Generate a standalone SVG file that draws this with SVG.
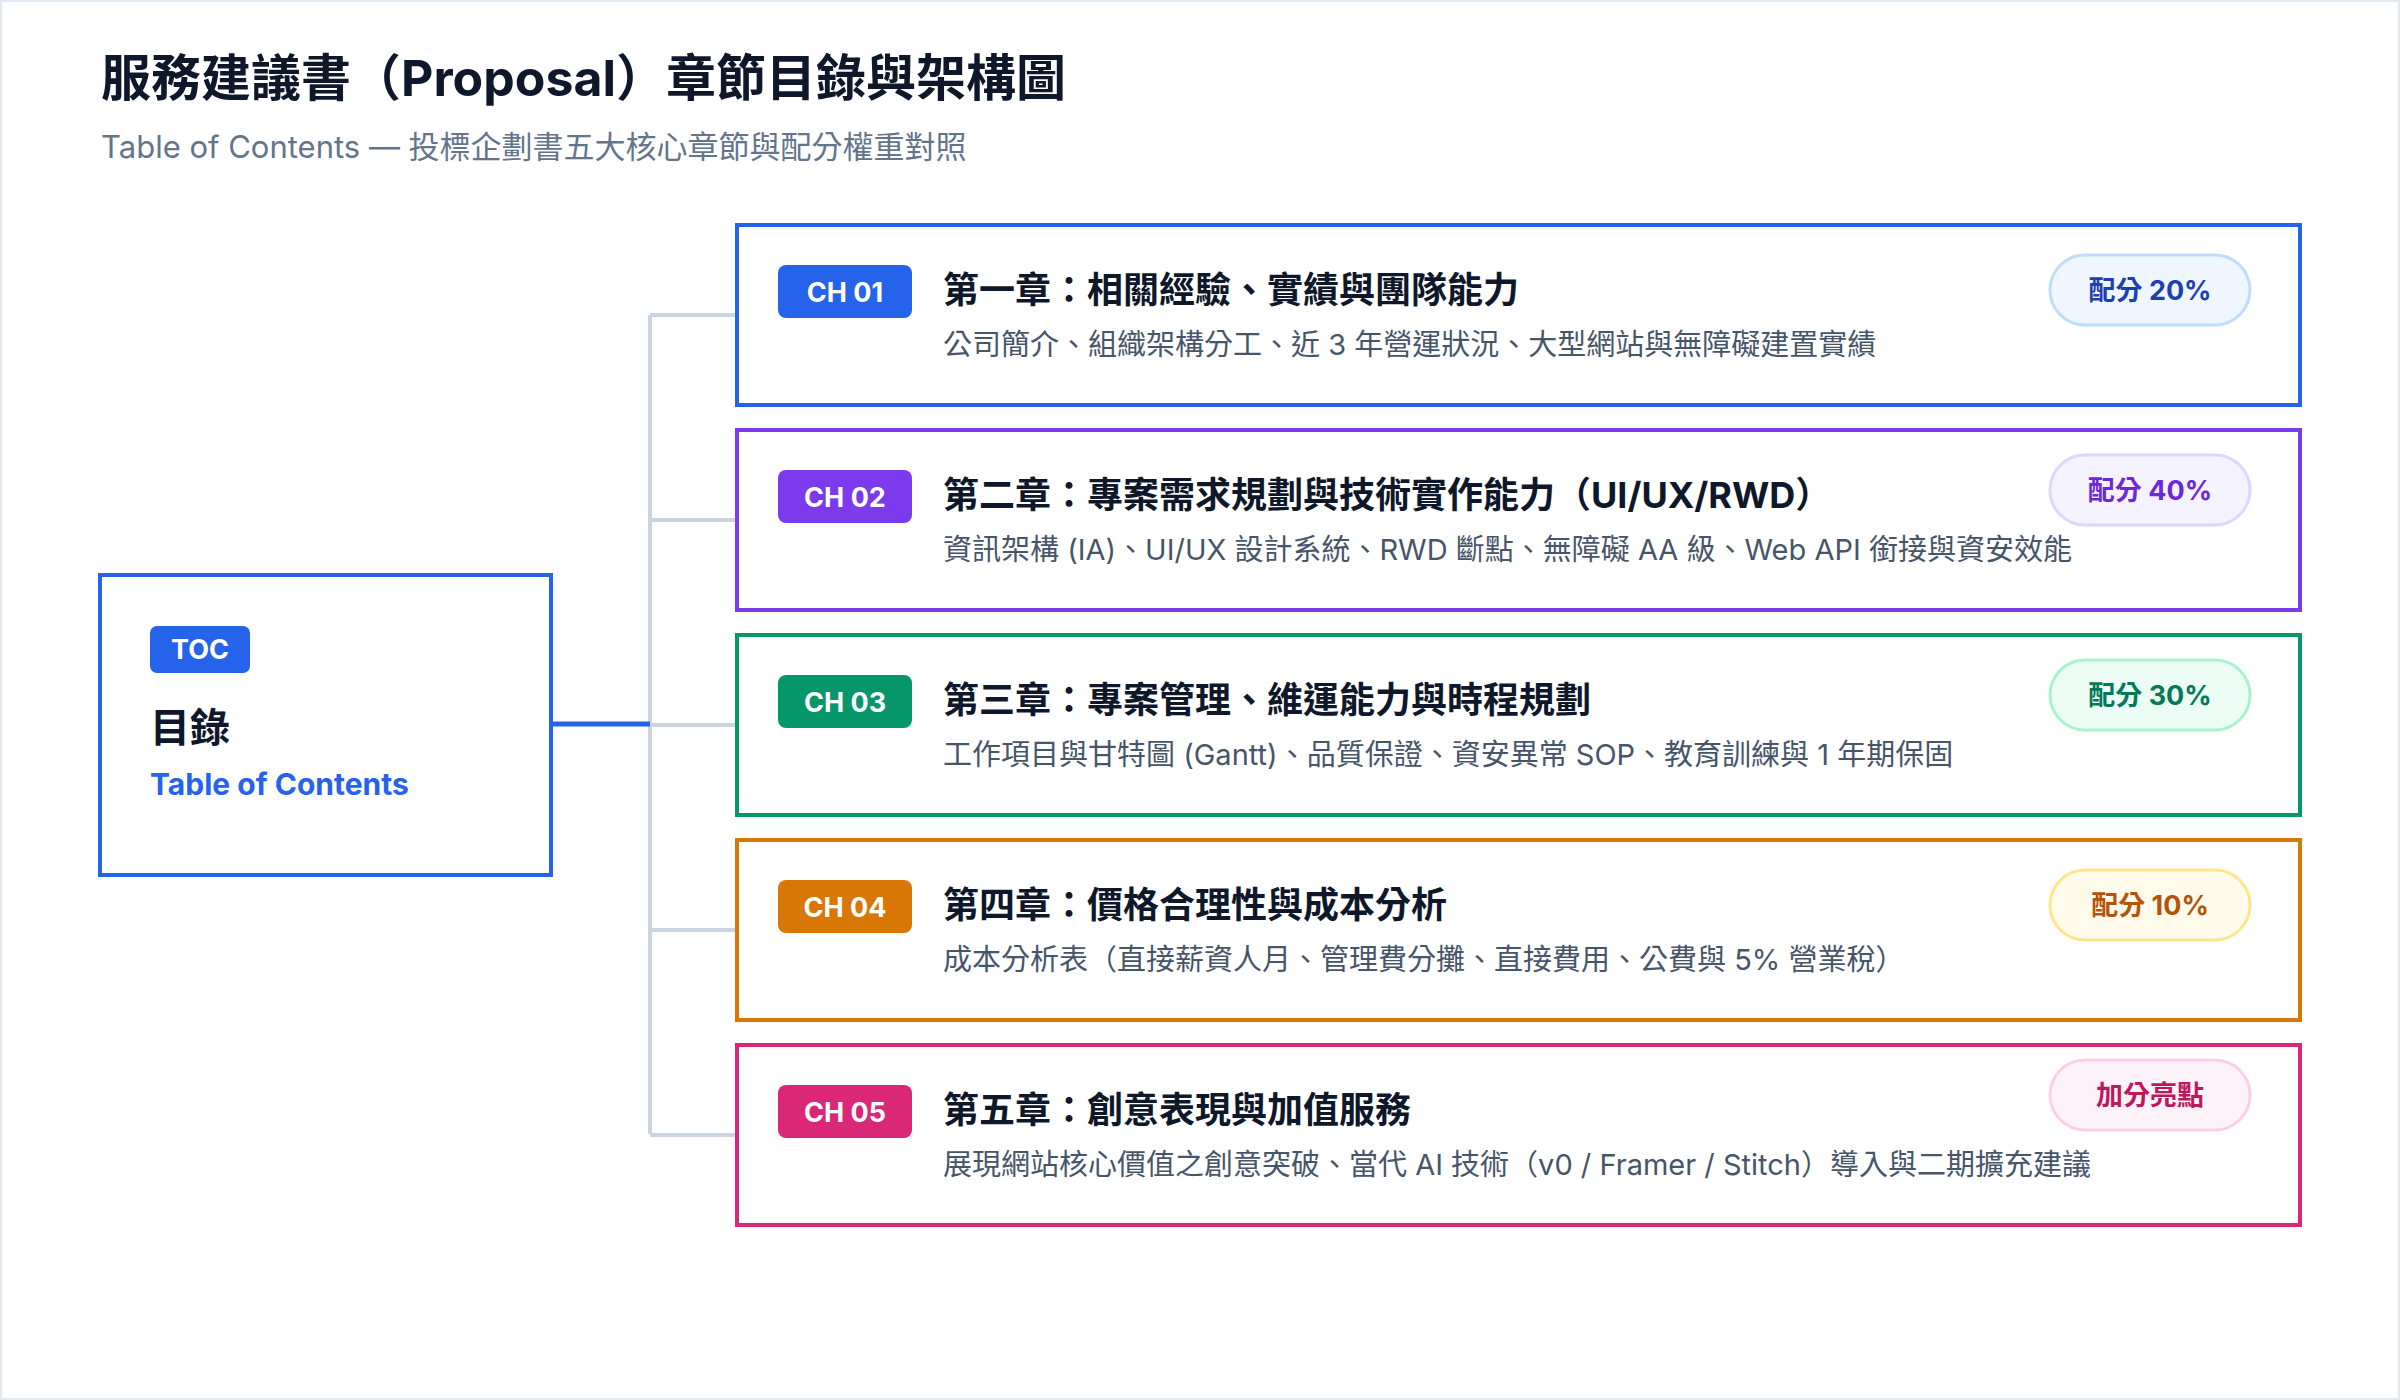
<svg xmlns="http://www.w3.org/2000/svg" width="2400" height="1400" viewBox="0 0 2400 1400">
<style>
text{font-family:Inter,"Noto Sans CJK TC",sans-serif}
.card{fill:#fff;stroke-width:4}
.badge{font-size:27px;font-weight:700;fill:#fff}
.ttl{font-size:36px;font-weight:700;fill:#0f172a}
.sub{font-size:29px;fill:#475569}
.pill{font-size:27px;font-weight:700}
.conn{fill:none;stroke:#cbd5e1;stroke-width:4}
</style>
<rect x="1" y="1" width="2398" height="1398" fill="#fff" stroke="#e2e8f0" stroke-width="2"/>
<text x="101" y="96" font-size="50" font-weight="700" fill="#0f172a">服務建議書（Proposal）章節目錄與架構圖</text>
<text x="101" y="158" font-size="31" fill="#64748b">Table of Contents — 投標企劃書五大核心章節與配分權重對照</text>
<g id="connectors">
<path class="conn" d="M650 315V1134M650 315H737M650 520H737M650 725H737M650 930H737M650 1135H737"/>
<path d="M551 724H650" stroke="#2563eb" stroke-width="5" fill="none"/>
</g>
<g id="toc">
<rect x="100" y="575" width="451" height="300" fill="#fff" stroke="#2563eb" stroke-width="4"/>
<rect x="150" y="626" width="100" height="47" rx="7" fill="#2563eb"/>
<text x="200" y="659" text-anchor="middle" class="badge">TOC</text>
<text x="150" y="742" font-size="40" font-weight="700" fill="#0f172a">目錄</text>
<text x="150" y="795" font-size="30" font-weight="700" fill="#2563eb">Table of Contents</text>
</g>
<g id="ch01" transform="translate(0,225)">
<rect class="card" x="737" y="0" width="1563" height="180" stroke="#2563eb"/>
<rect x="778" y="40" width="134" height="53" rx="8" fill="#2563eb"/>
<text x="845" y="77" text-anchor="middle" class="badge">CH 01</text>
<text x="943" y="78" class="ttl">第一章：相關經驗、實績與團隊能力</text>
<text x="943" y="130" class="sub">公司簡介、組織架構分工、近 3 年營運狀況、大型網站與無障礙建置實績</text>
<rect x="2050" y="30" width="200" height="70" rx="35" fill="#eff6ff" stroke="#bfdbfe" stroke-width="3"/>
<text x="2150" y="75" text-anchor="middle" class="pill" fill="#1e40af">配分 20%</text>
</g>
<g id="ch02" transform="translate(0,430)">
<rect class="card" x="737" y="0" width="1563" height="180" stroke="#7c3aed"/>
<rect x="778" y="40" width="134" height="53" rx="8" fill="#7c3aed"/>
<text x="845" y="77" text-anchor="middle" class="badge">CH 02</text>
<text x="943" y="78" class="ttl">第二章：專案需求規劃與技術實作能力（UI/UX/RWD）</text>
<text x="943" y="130" class="sub">資訊架構 (IA)、UI/UX 設計系統、RWD 斷點、無障礙 AA 級、Web API 銜接與資安效能</text>
<rect x="2050" y="25" width="200" height="70" rx="35" fill="#f5f3ff" stroke="#ddd6fe" stroke-width="3"/>
<text x="2150" y="70" text-anchor="middle" class="pill" fill="#6d28d9">配分 40%</text>
</g>
<g id="ch03" transform="translate(0,635)">
<rect class="card" x="737" y="0" width="1563" height="180" stroke="#059669"/>
<rect x="778" y="40" width="134" height="53" rx="8" fill="#059669"/>
<text x="845" y="77" text-anchor="middle" class="badge">CH 03</text>
<text x="943" y="78" class="ttl">第三章：專案管理、維運能力與時程規劃</text>
<text x="943" y="130" class="sub">工作項目與甘特圖 (Gantt)、品質保證、資安異常 SOP、教育訓練與 1 年期保固</text>
<rect x="2050" y="25" width="200" height="70" rx="35" fill="#ecfdf5" stroke="#a7f3d0" stroke-width="3"/>
<text x="2150" y="70" text-anchor="middle" class="pill" fill="#047857">配分 30%</text>
</g>
<g id="ch04" transform="translate(0,840)">
<rect class="card" x="737" y="0" width="1563" height="180" stroke="#d97706"/>
<rect x="778" y="40" width="134" height="53" rx="8" fill="#d97706"/>
<text x="845" y="77" text-anchor="middle" class="badge">CH 04</text>
<text x="943" y="78" class="ttl">第四章：價格合理性與成本分析</text>
<text x="943" y="130" class="sub">成本分析表（直接薪資人月、管理費分攤、直接費用、公費與 5% 營業稅）</text>
<rect x="2050" y="30" width="200" height="70" rx="35" fill="#fffbeb" stroke="#fde68a" stroke-width="3"/>
<text x="2150" y="75" text-anchor="middle" class="pill" fill="#b45309">配分 10%</text>
</g>
<g id="ch05" transform="translate(0,1045)">
<rect class="card" x="737" y="0" width="1563" height="180" stroke="#db2777"/>
<rect x="778" y="40" width="134" height="53" rx="8" fill="#db2777"/>
<text x="845" y="77" text-anchor="middle" class="badge">CH 05</text>
<text x="943" y="78" class="ttl">第五章：創意表現與加值服務</text>
<text x="943" y="130" class="sub">展現網站核心價值之創意突破、當代 AI 技術（v0 / Framer / Stitch）導入與二期擴充建議</text>
<rect x="2050" y="15" width="200" height="70" rx="35" fill="#fdf2f8" stroke="#fbcfe8" stroke-width="3"/>
<text x="2150" y="60" text-anchor="middle" class="pill" fill="#be185d">加分亮點</text>
</g>
</svg>
